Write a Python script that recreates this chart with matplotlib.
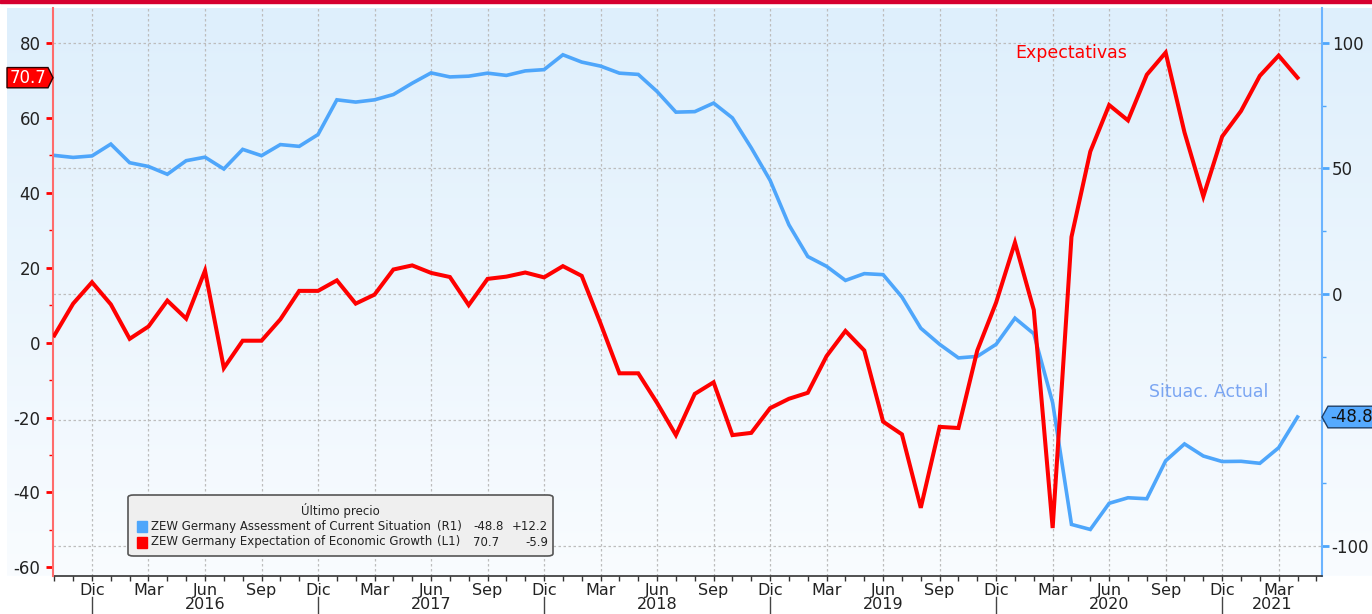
import numpy as np
import pandas as pd
import matplotlib
matplotlib.use("Agg")
import matplotlib.pyplot as plt
import matplotlib.transforms as mtransforms
from matplotlib.patches import FancyBboxPatch, Rectangle, Polygon
from matplotlib.lines import Line2D

plt.rcParams["axes.unicode_minus"] = False

# ZEW Germany, monthly Oct 2015 - Apr 2021
start_month = "2015-10"
expectations = [1.9, 10.4, 16.1,
                10.2, 1.0, 4.3, 11.2, 6.4, 19.2, -6.8, 0.5, 0.5, 6.2, 13.8, 13.8,
                16.6, 10.4, 12.8, 19.5, 20.6, 18.6, 17.5, 10.0, 17.0, 17.6, 18.7, 17.4,
                20.4, 17.8, 5.1, -8.2, -8.2, -16.1, -24.7, -13.7, -10.6, -24.7, -24.1, -17.5,
                -15.0, -13.4, -3.6, 3.1, -2.1, -21.1, -24.5, -44.1, -22.5, -22.8, -2.1, 10.7,
                26.7, 8.7, -49.5, 28.2, 51.0, 63.4, 59.3, 71.5, 77.4, 56.1, 39.0, 55.0,
                61.8, 71.2, 76.6, 70.7]
current = [55.2, 54.4, 55.0,
           59.7, 52.3, 50.8, 47.7, 53.1, 54.5, 49.8, 57.6, 55.1, 59.5, 58.8, 63.5,
           77.3, 76.4, 77.3, 79.4, 83.9, 88.0, 86.4, 86.7, 87.9, 87.0, 88.8, 89.3,
           95.2, 92.3, 90.7, 87.9, 87.4, 80.6, 72.4, 72.6, 76.0, 70.1, 58.2, 45.3,
           27.6, 15.0, 11.1, 5.5, 8.2, 7.8, -1.1, -13.5, -19.9, -25.3, -24.7, -19.9,
           -9.5, -15.7, -43.1, -91.5, -93.5, -83.1, -80.9, -81.3, -66.2, -59.5, -64.3, -66.5,
           -66.4, -67.2, -61.0, -48.8]
month_names = ["Ene", "Feb", "Mar", "Abr", "May", "Jun", "Jul", "Ago", "Sep", "Oct", "Nov", "Dic"]

legend_title = "Último precio"
legend_names = ["ZEW Germany Assessment of Current Situation", "ZEW Germany Expectation of Economic Growth"]
legend_axis = ["(R1)", "(L1)"]
legend_last = ["-48.8", "70.7"]
legend_change = ["+12.2", "-5.9"]

RED = "#ff0000"
BLUE = "#4ea6fb"

W, H = 1372, 614
fig = plt.figure(figsize=(W / 100, H / 100), dpi=100)
fig.patch.set_facecolor("white")


def fx(px):
    return px / W


def fy(py):
    return 1 - py / H


# gradient panel behind the chart
bg = fig.add_axes([7 / W, 38 / H, 1 - 7 / W, 568 / H], zorder=0)
top_c = np.array([222, 239, 252]) / 255
bot_c = np.array([249, 252, 255]) / 255
t = np.linspace(0, 1, 256)[:, None]
grad = (top_c[None, :] * (1 - t) + bot_c[None, :] * t)[:, None, :]
bg.imshow(grad, aspect="auto", extent=[0, 1, 0, 1])
bg.axis("off")

fig.add_artist(Rectangle((0, 1 - 2.5 / H), 1, 2.5 / H, transform=fig.transFigure,
                         color="#d6002f", zorder=5))

ax2 = fig.add_axes([53 / W, 38 / H, 1269 / W, 568 / H], zorder=1)
ax = ax2.twinx()
ax.set_zorder(2)
ax2.set_facecolor("none")
ax.patch.set_visible(False)

dates = pd.date_range(start_month, periods=len(expectations), freq="MS")
x = np.arange(len(dates))

ax2.plot(x, current, color=BLUE, lw=2.6, solid_joinstyle="miter", zorder=3)
ax.plot(x, expectations, color=RED, lw=2.9, solid_joinstyle="miter", zorder=3)

# left scale = expectations, right scale = current situation
ax.yaxis.tick_left()
ax.yaxis.set_label_position("left")
ax2.yaxis.tick_right()
ax2.yaxis.set_label_position("right")

ax.set_xlim(-0.07, 67.3)
ax.set_ylim(-62.3, 89.3)
ax2.set_ylim(-112.0, 113.8)

ax.set_yticks(np.arange(-60, 81, 20))
ax.set_yticks(np.arange(-50, 71, 20), minor=True)
ax2.set_yticks(np.arange(-100, 101, 50))
ax2.set_yticks(np.arange(-75, 76, 50), minor=True)

ax.tick_params(axis="y", which="major", colors=RED, length=5, width=2, pad=4, labelsize=12,
               labelcolor="#222222")
ax.tick_params(axis="y", which="minor", colors=RED, length=3, width=1)
ax2.tick_params(axis="y", which="major", colors="#4ea6fb", length=5, width=2, pad=2, labelsize=12,
                labelcolor="#222222")
ax2.tick_params(axis="y", which="minor", colors="#4ea6fb", length=3, width=1)

# x ticks: every month minor, quarterly labels
major = [i for i, d in enumerate(dates) if d.month in (3, 6, 9, 12)]
ax2.set_xticks(major)
ax2.set_xticklabels([month_names[dates[i].month - 1] for i in major])
ax2.set_xticks(np.arange(0, 68), minor=True)
ax2.tick_params(axis="x", which="both", length=3.5, width=1, color="#333333", pad=1.5,
                labelsize=11.5, labelcolor="#222222")
ax.tick_params(axis="x", which="both", bottom=False, labelbottom=False)

for a in (ax, ax2):
    a.spines["top"].set_visible(False)
ax2.spines["left"].set_visible(False)
ax.spines["right"].set_visible(False)
ax.spines["left"].set_color("#ff6b6b")
ax.spines["left"].set_linewidth(1.5)
ax2.spines["right"].set_color("#6cb4ff")
ax2.spines["right"].set_linewidth(1.5)
ax.spines["bottom"].set_visible(False)
ax2.spines["bottom"].set_color("#333333")
ax2.spines["bottom"].set_linewidth(1.2)

ax2.grid(True, which="major", color="#bdbdbd", lw=0.9, linestyle=(0, (2, 2)))

# year labels and separators
trans = mtransforms.blended_transform_factory(ax2.transData, ax2.transAxes)
year_breaks = [i for i, d in enumerate(dates) if d.month == 12]
for i in year_breaks:
    ax2.add_line(Line2D([i, i], [-0.037, -0.07], transform=trans, color="#444444", lw=1,
                        clip_on=False))
edges = year_breaks + [67.3]
for k in range(len(edges) - 1):
    yr = dates[edges[k]].year + 1
    ax2.text((edges[k] + edges[k + 1]) / 2, -0.051, str(yr), transform=trans, ha="center",
             va="center", fontsize=11.5, color="#222222", clip_on=False)

# series annotations
ax.text(54.0, 77.3, "Expectativas", color=RED, fontsize=12.5, ha="center", va="center")
ax2.text(61.3, -38.9, "Situac. Actual", color="#7aa5f2", fontsize=12.5, ha="center", va="center")

# last value tags
tl = mtransforms.blended_transform_factory(fig.transFigure, ax.transData)
v = expectations[-1]
h = 2.7
fig.add_artist(Polygon([(fx(7), v + h), (fx(48), v + h), (fx(53), v), (fx(48), v - h),
                        (fx(7), v - h)], closed=True, transform=tl, fc=RED, ec="#2a0000",
                       lw=1, zorder=8, clip_on=False))
fig.text(fx(28), v, f"{v:.1f}", transform=tl, ha="center", va="center", fontsize=12,
         color="white", zorder=9)

tr = mtransforms.blended_transform_factory(fig.transFigure, ax2.transData)
v = current[-1]
h = 4.3
fig.add_artist(Polygon([(fx(1322), v), (fx(1328), v + h), (fx(1375), v + h),
                        (fx(1375), v - h), (fx(1328), v - h)], closed=True, transform=tr,
                       fc="#55aaff", ec="#1f3f66", lw=1, zorder=8, clip_on=False))
fig.text(fx(1330), v, f"{v:.1f}", transform=tr, ha="left", va="center", fontsize=12,
         color="#111111", zorder=9)

# legend box
fig.add_artist(FancyBboxPatch((fx(128), fy(556)), fx(553) - fx(128), fy(495) - fy(556),
                              boxstyle="round,pad=0,rounding_size=0.004",
                              transform=fig.transFigure, fc="#efefef", ec="#555555",
                              lw=1.2, zorder=6))
fig.text(fx(340), fy(511), legend_title, ha="center", va="center", fontsize=8.5,
         color="#222222", zorder=7)
for r, (col, yy) in enumerate(zip([BLUE, RED], [526.5, 542])):
    fig.add_artist(Rectangle((fx(137), fy(yy + 5.5)), fx(10), 11 / H,
                             transform=fig.transFigure, color=col, zorder=7))
    fig.text(fx(151), fy(yy), legend_names[r], ha="left", va="center", fontsize=8.5,
             color="#222222", zorder=7)
    fig.text(fx(437), fy(yy), legend_axis[r], ha="left", va="center", fontsize=8.5,
             color="#222222", zorder=7)
    fig.text(fx(473), fy(yy), legend_last[r], ha="left", va="center", fontsize=8.5,
             color="#222222", zorder=7)
    fig.text(fx(548), fy(yy), legend_change[r], ha="right", va="center", fontsize=8.5,
             color="#222222", zorder=7)

fig.savefig("out.png", dpi=100)
